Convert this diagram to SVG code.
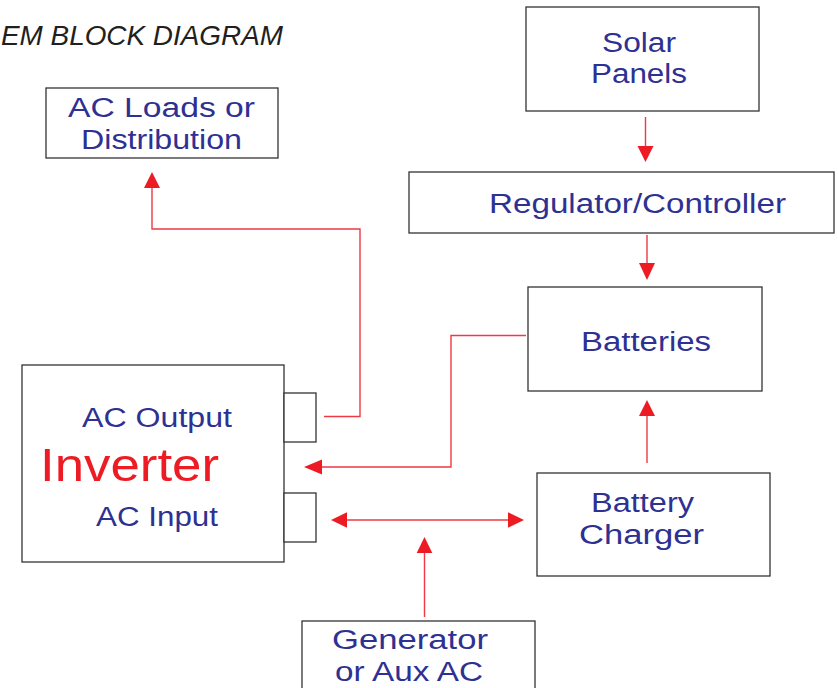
<svg xmlns="http://www.w3.org/2000/svg" width="838" height="688" viewBox="0 0 838 688">
<defs>
<style>
.box{fill:#fff;stroke:#333;stroke-width:1.3}
.lbl{font-family:"Liberation Sans",Arial,sans-serif;font-size:27px;fill:#2E3192}
.wire{fill:none;stroke:#EE3A43;stroke-width:1.4}
.head{fill:#ED1C24;stroke:none}
</style>
</defs>
<rect width="838" height="688" fill="#fff"/>
<text x="1" y="45" font-family="Liberation Sans,Arial,sans-serif" font-size="28" font-style="italic" fill="#231F20" textLength="282" lengthAdjust="spacingAndGlyphs">EM BLOCK DIAGRAM</text>

<g id="ac-loads">
<rect class="box" x="46" y="88" width="232" height="70"/>
<text class="lbl" x="68" y="117" textLength="187" lengthAdjust="spacingAndGlyphs">AC Loads or</text>
<text class="lbl" x="81" y="149" textLength="161" lengthAdjust="spacingAndGlyphs">Distribution</text>
</g>

<g id="solar-panels">
<rect class="box" x="526" y="7" width="233" height="104"/>
<text class="lbl" x="602" y="52" textLength="74" lengthAdjust="spacingAndGlyphs">Solar</text>
<text class="lbl" x="591" y="83" textLength="96" lengthAdjust="spacingAndGlyphs">Panels</text>
</g>

<g id="regulator">
<rect class="box" x="409" y="172" width="425" height="61"/>
<text class="lbl" x="489" y="213" textLength="297" lengthAdjust="spacingAndGlyphs">Regulator/Controller</text>
</g>

<g id="batteries">
<rect class="box" x="528" y="287" width="234" height="104"/>
<text class="lbl" x="581" y="351" textLength="130" lengthAdjust="spacingAndGlyphs">Batteries</text>
</g>

<g id="battery-charger">
<rect class="box" x="537" y="473" width="233" height="103"/>
<text class="lbl" x="591" y="512" textLength="103" lengthAdjust="spacingAndGlyphs">Battery</text>
<text class="lbl" x="579" y="544" textLength="125" lengthAdjust="spacingAndGlyphs">Charger</text>
</g>

<g id="inverter">
<rect class="box" x="22" y="365" width="262" height="197"/>
<rect class="box" x="284" y="393" width="32" height="49"/>
<rect class="box" x="284" y="493" width="32" height="49"/>
<text class="lbl" x="82" y="427" textLength="150" lengthAdjust="spacingAndGlyphs">AC Output</text>
<text x="40" y="481" font-family="Liberation Sans,Arial,sans-serif" font-size="46" fill="#ED1C24" textLength="179" lengthAdjust="spacingAndGlyphs">Inverter</text>
<text class="lbl" x="96" y="526" textLength="122" lengthAdjust="spacingAndGlyphs">AC Input</text>
</g>

<g id="generator">
<rect class="box" x="302" y="621" width="233" height="80"/>
<text class="lbl" x="332" y="649" textLength="156" lengthAdjust="spacingAndGlyphs">Generator</text>
<text class="lbl" x="335" y="681" textLength="148" lengthAdjust="spacingAndGlyphs">or Aux AC</text>
</g>

<g id="connectors">
<polyline class="wire" points="324,416.5 360,416.5 360,229 152,229 152,186"/>
<polygon class="head" points="152,172 144,188 160,188"/>

<line class="wire" x1="645.5" y1="117" x2="645.5" y2="147"/>
<polygon class="head" points="645.5,162 637.5,146 653.5,146"/>

<line class="wire" x1="647" y1="235" x2="647" y2="264"/>
<polygon class="head" points="647,280 639,263 655,263"/>

<line class="wire" x1="647" y1="463" x2="647" y2="414"/>
<polygon class="head" points="647,400 639,416 655,416"/>

<polyline class="wire" points="526,335.5 451,335.5 451,467 320,467"/>
<polygon class="head" points="304,467 322,459.5 322,474.5"/>

<line class="wire" x1="345" y1="520" x2="510" y2="520"/>
<polygon class="head" points="331,520 347,512.3 347,527.7"/>
<polygon class="head" points="524,520 508,512.3 508,527.7"/>

<line class="wire" x1="424.5" y1="617" x2="424.5" y2="551"/>
<polygon class="head" points="424.5,537 416.7,553 432.3,553"/>
</g>
</svg>
